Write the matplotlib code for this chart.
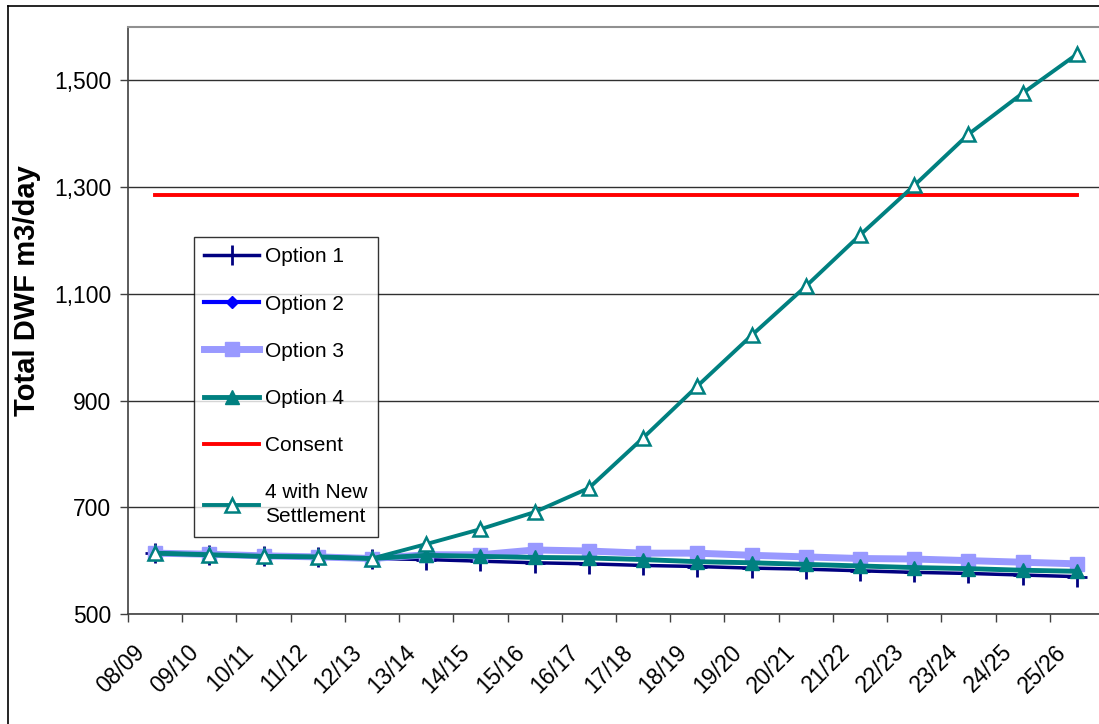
import matplotlib.pyplot as plt
from matplotlib.lines import Line2D
from matplotlib.transforms import ScaledTranslation
import numpy as np

plt.rcParams['font.family'] = ['Liberation Sans', 'DejaVu Sans']

# financial years on the category axis
years = ['08/09', '09/10', '10/11', '11/12', '12/13', '13/14', '14/15', '15/16', '16/17',
         '17/18', '18/19', '19/20', '20/21', '21/22', '22/23', '23/24', '24/25', '25/26']

# total DWF (m3/day)
option1 = [614, 611, 608, 607, 604, 602, 599, 596, 594, 591, 589, 586, 584, 581, 578, 576, 573, 570]
option2 = [614, 612, 609, 607, 604, 611, 611, 620, 618, 614, 614, 610, 607, 604, 603, 600, 597, 594]
option3 = [614, 612, 609, 607, 604, 611, 611, 620, 618, 614, 614, 610, 607, 604, 603, 600, 597, 594]
option4 = [614, 611, 608, 607, 604, 610, 608, 606, 605, 602, 598, 596, 593, 590, 587, 585, 582, 580]
consent = [1285] * 18
new_settlement = [614, 611, 608, 607, 604, 631, 659, 691, 736, 830, 927, 1022, 1114, 1210, 1303,
                  1399, 1476, 1549]

fig = plt.figure(figsize=(10.99, 7.24), dpi=100)
# plot area runs a little past the right edge, like the cropped original
ax = fig.add_axes([128 / 1099, 1 - 614 / 724, 976 / 1099, 587 / 724])

x = np.arange(len(years))
ax.plot(x, option1, color='#000080', lw=2.5, marker='+', ms=14, mew=2, label='Option 1')
ax.plot(x, option2, color='#0000FF', lw=3, marker='D', ms=6, label='Option 2')
ax.plot(x, option3, color='#9999FF', lw=5, marker='s', ms=10, label='Option 3')
ax.plot(x, option4, color='#008080', lw=3.5, marker='^', ms=10.5, label='Option 4')
ax.plot(x, consent, color='#FF0000', lw=2.8, label='Consent')
ax.plot(x, new_settlement, color='#008080', lw=2.8, marker='^', ms=9.5, mew=1.8,
        mfc='white', label='4 with New\nSettlement')

ax.set_xlim(-0.5, len(years) - 0.5)
ax.set_ylim(500, 1600)
ax.set_yticks(range(500, 1501, 200))
ax.set_yticklabels(['{:,}'.format(v) for v in range(500, 1501, 200)])
ax.yaxis.grid(True, color='#303030', lw=1)
ax.set_axisbelow(True)

ax.set_xticks(x)
ax.set_xticklabels(years, rotation=45, ha='right', va='top', rotation_mode='anchor')
ax.set_xticks(np.arange(-0.5, len(years), 1), minor=True)
ax.tick_params(axis='x', which='major', length=0, pad=19, labelsize=16.5)
ax.tick_params(axis='x', which='minor', length=6, width=1, color='#404040')
ax.tick_params(axis='y', length=6, width=1, color='#404040', pad=6, labelsize=16.5)
for lab in ax.get_xticklabels():
    lab.set_transform(lab.get_transform() + ScaledTranslation(-0.22, 0, fig.dpi_scale_trans))

for side in ['left', 'bottom']:
    ax.spines[side].set_color('#404040')
    ax.spines[side].set_linewidth(1.2)
ax.spines['top'].set_color('#909090')
ax.spines['top'].set_linewidth(1.5)
ax.spines['right'].set_visible(False)

fig.text(27 / 1099, 1 - 291 / 724, 'Total DWF m3/day', rotation=90, ha='center', va='center',
         fontsize=21, fontweight='bold')

leg = ax.legend(loc='upper left', bbox_to_anchor=(194 / 1099, 1 - 237 / 724),
                bbox_transform=fig.transFigure, frameon=True, fancybox=False,
                edgecolor='black', fontsize=15, numpoints=1, handlelength=2.6,
                handletextpad=0.3, labelspacing=1.35, borderpad=0.5, borderaxespad=0)
leg.get_frame().set_linewidth(1)
leg.get_texts()[-1].set_linespacing(1.35)

# outer chart border (left and top visible)
fig.add_artist(Line2D([7.5 / 1099, 7.5 / 1099], [0, 1 - 5.5 / 724], color='black', lw=1.2,
                      transform=fig.transFigure))
fig.add_artist(Line2D([7.5 / 1099, 1], [1 - 5.5 / 724, 1 - 5.5 / 724], color='black', lw=1.2,
                      transform=fig.transFigure))

fig.savefig('out.png', dpi=100)
